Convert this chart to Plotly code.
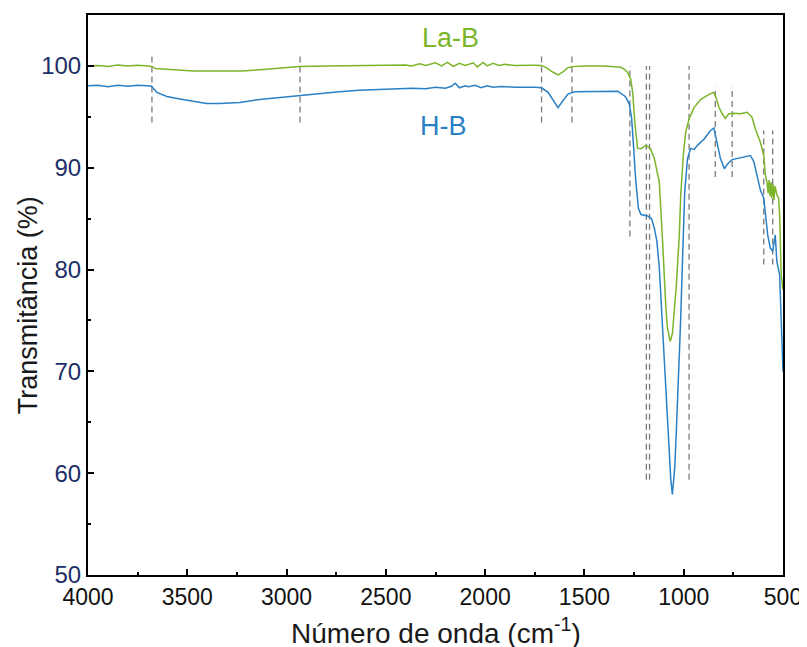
import plotly.graph_objects as go

# ---- data ----
green_wn = [4000, 3950, 3900, 3850, 3800, 3750, 3700, 3680, 3660, 3620, 3560, 3500, 3470, 3400, 3300,
            3221, 3150, 3036, 2935, 2800, 2635, 2500, 2400, 2370, 2330, 2300, 2250, 2220, 2190, 2160,
            2130, 2100, 2060, 2040, 2010, 1990, 1960, 1930, 1900, 1850, 1800, 1750, 1716, 1690, 1660,
            1633, 1610, 1585, 1563, 1500, 1400, 1349, 1317, 1299, 1282, 1274, 1267, 1257, 1245, 1232,
            1215, 1190, 1168, 1148, 1132, 1123, 1107, 1098, 1090, 1082, 1068, 1057, 1045, 1037, 1028,
            1023, 1015, 1001, 990, 973, 948, 915, 881, 851, 840, 823, 806, 790, 773, 748, 714, 681,
            656, 639, 614, 597, 589, 581, 575, 570, 565, 560, 556, 550, 545, 540, 530, 522, 517, 509, 500]
green_T = [100.0, 100.05, 99.95, 100.08, 100.0, 100.06, 100.0, 99.95, 99.75, 99.7, 99.65, 99.55, 99.5, 99.5, 99.5,
           99.5, 99.6, 99.8, 99.93, 100.0, 100.06, 100.06, 100.1, 100.0, 100.2, 100.05, 100.3, 100.0, 100.35, 99.95,
           100.25, 100.05, 100.3, 99.9, 100.35, 100.0, 100.25, 100.05, 100.15, 100.05, 100.08, 100.06, 100.05, 99.8, 99.4,
           99.12, 99.4, 99.8, 99.93, 100.0, 100.0, 99.95, 99.87, 99.67, 99.35, 99.0, 98.7, 97.4, 94.15, 91.9,
           91.87, 92.2, 91.9, 90.9, 89.6, 88.6, 83.0, 79.0, 76.3, 74.3, 72.94, 73.7, 76.25, 78.5, 81.5,
           83.0, 87.3, 91.5, 93.5, 94.8, 95.9, 96.7, 97.1, 97.4, 97.07, 95.96, 95.3, 94.85, 95.3, 95.35, 95.3, 95.45,
           94.96, 93.8, 92.5, 91.2, 89.3, 88.6, 87.5, 88.8, 87.2, 88.6, 87.0, 88.4, 86.8, 88.2, 87.3, 87.0, 85.4, 79.5, 78.0]

blue_wn = [4000, 3950, 3900, 3850, 3800, 3750, 3700, 3680, 3653, 3603, 3537, 3470, 3403, 3336, 3236,
           3136, 3036, 2935, 2835, 2735, 2635, 2535, 2450, 2368, 2300, 2250, 2200, 2170, 2150, 2130,
           2100, 2084, 2050, 2020, 1990, 1960, 1917, 1850, 1750, 1716, 1683, 1649, 1633, 1608, 1583,
           1549, 1416, 1332, 1299, 1291, 1274, 1262, 1252, 1241, 1228, 1215, 1182, 1162, 1148, 1135,
           1123, 1115, 1107, 1098, 1090, 1082, 1073, 1065, 1057, 1045, 1037, 1028, 1022, 1015, 1010,
           1005, 1001, 995, 981, 965, 948, 931, 898, 865, 848, 835, 815, 795, 778, 756, 733, 697,
           664, 647, 631, 614, 597, 589, 577, 564, 552, 539, 531, 517, 509, 500]
blue_T = [98.05, 98.1, 97.95, 98.1, 98.0, 98.1, 98.05, 98.0, 97.4, 97.0, 96.75, 96.5, 96.3, 96.3, 96.4,
          96.7, 96.9, 97.1, 97.3, 97.45, 97.6, 97.65, 97.7, 97.8, 97.75, 97.9, 97.8, 98.0, 98.3, 97.85,
          98.05, 97.95, 98.1, 97.85, 98.05, 97.9, 97.98, 97.9, 97.9, 97.85, 97.4, 96.4, 95.9, 96.6, 97.23,
          97.46, 97.5, 97.5, 97.07, 96.9, 96.25, 94.8, 91.9, 88.6, 86.0, 85.4, 85.27, 85.0, 84.06, 82.76,
          80.2, 77.3, 73.8, 70.4, 67.15, 64.2, 61.6, 59.35, 57.9, 60.6, 64.2, 68.1, 72.0, 75.3, 78.5,
          81.8, 82.76, 87.6, 90.9, 91.9, 91.8, 92.2, 92.8, 93.66, 93.9, 92.8, 90.9, 89.9, 90.4, 90.8, 90.9, 91.05,
          91.2, 90.6, 89.3, 87.8, 87.0, 85.4, 83.4, 82.1, 81.8, 83.4, 80.8, 79.5, 75.0, 70.0]

# reference (dashed) band positions and their vertical extents
band_wn = [3678, 2932, 1716, 1563, 1271, 1188, 1172, 973, 841, 756, 597, 552]
band_lo = [94.45, 94.45, 94.45, 94.45, 83.25, 59.35, 59.35, 59.35, 89.1, 89.1, 80.5, 80.5]
band_hi = [101.3, 101.3, 101.3, 101.3, 100.0, 100.0, 100.0, 100.0, 97.95, 97.95, 93.65, 93.65]

series_names = ["La-B", "H-B"]
label_wn = [2174, 2209]
label_T = [102.75, 94.1]

x_ticks = [4000, 3500, 3000, 2500, 2000, 1500, 1000, 500]
y_ticks = [50, 60, 70, 80, 90, 100]

GREEN = "#7cb52a"
BLUE = "#2a80c4"
FONT = "Liberation Sans, Arial"

fig = go.Figure()

# dashed band markers
dx, dy = [], []
for w, lo, hi in zip(band_wn, band_lo, band_hi):
    dx += [w, w, None]
    dy += [lo, hi, None]
fig.add_trace(go.Scatter(x=dx, y=dy, mode="lines",
                         line=dict(color="#7a7a7a", width=1.3, dash="6px,4px"),
                         hoverinfo="skip", showlegend=False))

fig.add_trace(go.Scatter(x=blue_wn, y=blue_T, mode="lines", name=series_names[1],
                         line=dict(color=BLUE, width=1.5), showlegend=False))
fig.add_trace(go.Scatter(x=green_wn, y=green_T, mode="lines", name=series_names[0],
                         line=dict(color=GREEN, width=1.5), showlegend=False))

for name, xw, yt, col in zip(series_names, label_wn, label_T, [GREEN, BLUE]):
    fig.add_annotation(x=xw, y=yt, xref="x", yref="y", text=name, showarrow=False,
                       font=dict(family=FONT, size=27, color=col))

fig.add_annotation(x=0.5, y=-0.100, xref="paper", yref="paper", xanchor="center", yanchor="middle",
                   text="Número de onda (cm<sup>-1</sup>)", showarrow=False,
                   font=dict(family=FONT, size=28, color="#1a1a1a"))
fig.add_annotation(x=-0.086, y=0.482, xref="paper", yref="paper", xanchor="center", yanchor="middle",
                   text="Transmitância (%)", textangle=-90, showarrow=False,
                   font=dict(family=FONT, size=27, color="#1a1a1a"))

# page body has an 8px default margin, so the figure is sized/offset to compensate
fig.update_layout(
    width=799, height=639,
    margin=dict(l=80, r=21, t=5, b=72),
    paper_bgcolor="white", plot_bgcolor="white",
    showlegend=False,
)
fig.update_xaxes(range=[4000, 500], tickvals=x_ticks, ticktext=[str(v) for v in x_ticks],
                 showgrid=False, zeroline=False,
                 showline=True, linecolor="black", linewidth=2, mirror=True,
                 ticks="inside", ticklen=6, tickwidth=2, tickcolor="black",
                 minor=dict(dtick=250, ticks="inside", ticklen=3, tickwidth=2, tickcolor="black", showgrid=False),
                 tickfont=dict(family=FONT, size=23, color="#111111"))
fig.update_yaxes(range=[50, 105], tickvals=y_ticks, ticktext=[str(v) for v in y_ticks],
                 showgrid=False, zeroline=False,
                 showline=True, linecolor="black", linewidth=2, mirror=True,
                 ticks="inside", ticklen=6, tickwidth=2, tickcolor="black",
                 minor=dict(dtick=5, ticks="inside", ticklen=3, tickwidth=2, tickcolor="black", showgrid=False),
                 tickfont=dict(family=FONT, size=24, color="#1c2f66"))

fig.write_html("out.html")
